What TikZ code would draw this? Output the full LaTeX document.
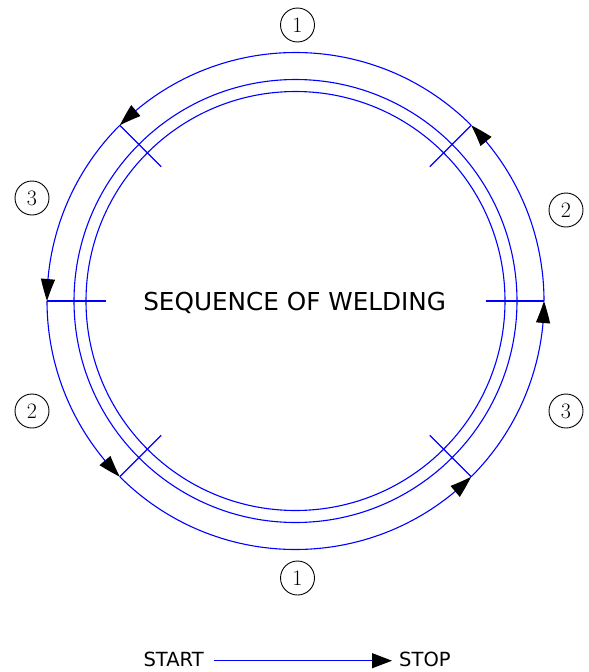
\documentclass[tikz,border=0pt]{standalone}
\usepackage{fontspec}
\newfontfamily\dejavu{DejaVu Sans}
\usetikzlibrary{arrows.meta,bending}
\definecolor{lineblue}{RGB}{0,0,255}
\tikzset{
  weld/.style={draw=lineblue, line width=1.1pt},
  weldarrow/.style={weld, -{Triangle[length=22pt,width=14pt,color=black,bend]}},
  numcirc/.style={circle, draw=black, line width=0.9pt, minimum size=34pt, inner sep=0pt, font=\fontsize{22}{22}\selectfont},
  tick/.style={weld},
}
\begin{document}
\begin{tikzpicture}[x=1pt,y=1pt]
\useasboundingbox (0,0) rectangle (589,-672);
\coordinate (C) at (295.5,-301);
% inner circles
\draw[weld] (C) circle[radius=221.5];
\draw[weld] (C) circle[radius=209.5];
% outer arcs with arrows
\draw[weldarrow] (C) ++(45:248.5) arc[start angle=45, end angle=135, radius=248.5];
\draw[weldarrow] (C) ++(135:248.5) arc[start angle=135, end angle=180, radius=248.5];
\draw[weldarrow] (C) ++(180:248.5) arc[start angle=180, end angle=225, radius=248.5];
\draw[weldarrow] (C) ++(225:248.5) arc[start angle=225, end angle=315, radius=248.5];
\draw[weldarrow] (C) ++(315:248.5) arc[start angle=315, end angle=360, radius=248.5];
\draw[weldarrow] (C) ++(0:248.5) arc[start angle=0, end angle=45, radius=248.5];
% ticks
\foreach \a in {0,45,135,180,225,315}{
  \draw[tick] (C) ++(\a:190) -- ++(\a:58.5);
}
% labels
\node[numcirc] (n1t) at (297.5,-25) {1};
\node[numcirc] (n2r) at (566,-210) {2};
\node[numcirc] (n3l) at (32,-198) {3};
\node[numcirc] (n2l) at (32,-411) {2};
\node[numcirc] (n3r) at (566,-411) {3};
\node[numcirc] (n1b) at (297.5,-578) {1};
% title
\node[anchor=base, inner sep=0pt, font=\dejavu\fontsize{24.7}{26}\selectfont] (title) at (294.7,-310.7) {SEQUENCE OF WELDING};
% legend
\node[anchor=base west, inner sep=0pt, font=\dejavu\fontsize{19.5}{20}\selectfont] (start) at (143.3,-666.7) {START};
\node[anchor=base west, inner sep=0pt, font=\dejavu\fontsize{19.5}{20}\selectfont] (stop) at (399,-666.7) {STOP};
\coordinate (ls) at ([xshift=10pt]start.east |- 0,-660.7);
\coordinate (le) at ([xshift=-7pt]stop.west |- 0,-660.7);
\draw[weld, -{Triangle[length=20pt,width=15pt,color=black]}] (ls) -- (le);
\end{tikzpicture}
\end{document}
